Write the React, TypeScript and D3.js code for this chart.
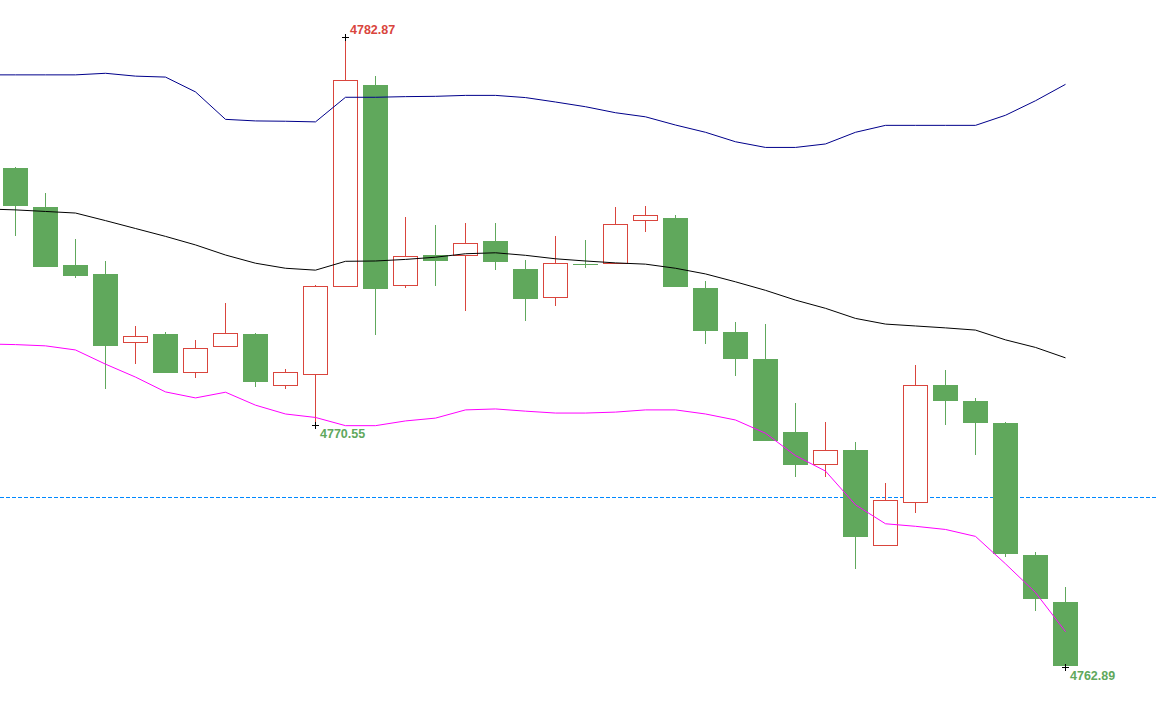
import React from "react";
import * as d3 from "d3";

const W = 1158;
const H = 714;

// OHLC per bar (36 bars)
const opens = [4778.71, 4777.47, 4775.63, 4775.35, 4773.18, 4773.45, 4772.23, 4773.06, 4773.45, 4771.82, 4772.17, 4774.96, 4781.34, 4774.99, 4775.95, 4775.94, 4776.39, 4775.51, 4774.61, 4775.68, 4775.69, 4777.05, 4777.12, 4774.90, 4773.51, 4772.65, 4770.34, 4769.31, 4769.77, 4766.75, 4768.11, 4771.83, 4771.32, 4770.63, 4766.44, 4764.95];
const highs = [4778.74, 4777.92, 4776.46, 4775.76, 4773.70, 4773.51, 4773.26, 4774.43, 4773.48, 4772.34, 4774.99, 4782.87, 4781.62, 4777.15, 4776.90, 4776.96, 4776.96, 4775.79, 4776.55, 4776.43, 4777.47, 4777.50, 4777.22, 4775.13, 4773.83, 4773.76, 4771.26, 4770.66, 4770.02, 4768.72, 4772.46, 4772.30, 4771.43, 4770.66, 4766.53, 4765.43];
const lows = [4776.56, 4775.56, 4775.23, 4771.71, 4772.50, 4772.20, 4772.04, 4773.05, 4771.78, 4771.71, 4770.55, 4774.95, 4773.42, 4774.91, 4774.98, 4774.18, 4775.48, 4773.87, 4774.34, 4775.55, 4775.68, 4776.69, 4774.94, 4773.14, 4772.12, 4770.05, 4768.92, 4768.90, 4766.01, 4766.74, 4767.78, 4770.56, 4769.62, 4766.38, 4764.67, 4762.89];
const closes = [4777.51, 4775.58, 4775.29, 4773.07, 4773.37, 4772.22, 4772.99, 4773.47, 4771.93, 4772.23, 4774.96, 4781.49, 4774.88, 4775.91, 4775.77, 4776.32, 4775.74, 4774.56, 4775.69, 4775.65, 4776.92, 4777.21, 4774.95, 4773.55, 4772.66, 4770.06, 4769.30, 4769.76, 4767.02, 4768.17, 4771.82, 4771.33, 4770.61, 4766.48, 4765.06, 4762.92];

// Bollinger bands, starting one bar before the first visible bar (index -1 .. 35)
const upperBand = [4781.66, 4781.66, 4781.66, 4781.66, 4781.71, 4781.62, 4781.59, 4781.12, 4780.25, 4780.20, 4780.19, 4780.17, 4780.95, 4780.95, 4780.97, 4780.98, 4781.01, 4781.01, 4780.94, 4780.80, 4780.65, 4780.46, 4780.33, 4780.07, 4779.84, 4779.54, 4779.36, 4779.36, 4779.47, 4779.84, 4780.06, 4780.06, 4780.06, 4780.06, 4780.38, 4780.84, 4781.36];
const middleBand = [4777.41, 4777.38, 4777.33, 4777.28, 4777.04, 4776.79, 4776.54, 4776.27, 4775.95, 4775.69, 4775.53, 4775.47, 4775.75, 4775.76, 4775.81, 4775.88, 4775.99, 4776.02, 4775.94, 4775.83, 4775.76, 4775.70, 4775.66, 4775.53, 4775.35, 4775.10, 4774.83, 4774.52, 4774.26, 4773.94, 4773.76, 4773.70, 4773.64, 4773.57, 4773.26, 4773.02, 4772.69];
const lowerBand = [4773.13, 4773.11, 4773.07, 4772.94, 4772.49, 4772.08, 4771.61, 4771.42, 4771.60, 4771.19, 4770.91, 4770.80, 4770.54, 4770.54, 4770.69, 4770.78, 4771.04, 4771.07, 4771.00, 4770.94, 4770.94, 4770.97, 4771.04, 4771.04, 4770.91, 4770.72, 4770.30, 4769.59, 4769.10, 4768.03, 4767.43, 4767.35, 4767.25, 4767.03, 4766.16, 4765.25, 4764.01];

const refLevel = 4768.28;
const highMarks = [11];
const lowMarks = [10, 35];

const UP = "#d9453d";
const DOWN = "#60a85c";

export default function App() {
  const n = opens.length;
  const idx = d3.range(n);
  const x = d3
    .scaleBand<number>()
    .domain(idx)
    .range([0.5, 1080.5])
    .paddingInner(1 / 6)
    .paddingOuter(1 / 12);
  const bw = x.bandwidth();
  const step = x.step();
  const xc = d3
    .scaleLinear()
    .domain([0, 1])
    .range([(x(0) as number) + bw / 2, (x(0) as number) + bw / 2 + step]);

  const y = d3
    .scaleLinear()
    .domain([d3.min(lows) as number, d3.max(highs) as number])
    .range([667, 36.7]);
  const r = (v: number) => Math.round(y(v));

  const bandLine = (vals: number[]) =>
    d3
      .line<number>()
      .x((_, i) => xc(i - 1))
      .y((d) => y(d))(vals) as string;

  const font = "'Liberation Sans', Arial, sans-serif";
  const refY = r(refLevel);
  const dashes = d3.range(0, W, 6);

  return (
    <svg
      width={W}
      height={H}
      style={{ position: "absolute", left: 0, top: 0, background: "#fff" }}
    >
      <defs>
        <clipPath id="plot">
          <rect x={0} y={0} width={W} height={H} />
        </clipPath>
      </defs>
      {/* reference dashed line */}
      <g fill="#0088ff" shapeRendering="crispEdges">
        {dashes.map((d) => (
          <rect key={d} x={d} y={refY} width={4} height={1} />
        ))}
      </g>
      {/* candles */}
      {idx.map((i) => {
        const o = opens[i];
        const c = closes[i];
        const up = c > o;
        const col = up ? UP : DOWN;
        const cx = xc(i);
        const top = r(Math.max(o, c));
        const bot = r(Math.min(o, c));
        const x0 = x(i) as number;
        return (
          <g key={i}>
            <line
              x1={cx}
              x2={cx}
              y1={r(highs[i])}
              y2={r(lows[i])}
              stroke={col}
              strokeWidth={1}
              shapeRendering="crispEdges"
            />
            {up ? (
              <rect
                x={x0 + 0.5}
                y={top + 0.5}
                width={bw - 1}
                height={Math.max(1, bot - top)}
                fill="#fff"
                stroke={col}
                strokeWidth={1}
                shapeRendering="crispEdges"
              />
            ) : (
              <rect
                x={x0}
                y={top}
                width={bw}
                height={Math.max(1, bot - top)}
                fill={col}
                shapeRendering="crispEdges"
              />
            )}
          </g>
        );
      })}
      {/* bands */}
      <g clipPath="url(#plot)" fill="none" strokeWidth={1}>
        <path d={bandLine(upperBand)} stroke="#00008b" />
        <path d={bandLine(middleBand)} stroke="#000" />
        <path d={bandLine(lowerBand)} stroke="#ff00ff" />
      </g>
      {/* high / low markers */}
      {highMarks.map((i) => {
        const cx = xc(i);
        const cy = r(highs[i]) + 0.5;
        return (
          <g key={"h" + i}>
            <path d={`M${cx - 3.5},${cy}H${cx + 3.5}M${cx},${cy - 3.5}V${cy + 3.5}`} stroke="#000" strokeWidth={1} shapeRendering="crispEdges" />
            <text x={cx + 4.5} y={cy - 3.5} fill={UP} fontFamily={font} fontWeight="bold" fontSize={12.5}>
              {highs[i].toFixed(2)}
            </text>
          </g>
        );
      })}
      {lowMarks.map((i) => {
        const cx = xc(i);
        const cy = r(lows[i]) + 0.5;
        return (
          <g key={"l" + i}>
            <path d={`M${cx - 3.5},${cy}H${cx + 3.5}M${cx},${cy - 3.5}V${cy + 3.5}`} stroke="#000" strokeWidth={1} shapeRendering="crispEdges" />
            <text x={cx + 4.5} y={cy + 12} fill={DOWN} fontFamily={font} fontWeight="bold" fontSize={12.5}>
              {lows[i].toFixed(2)}
            </text>
          </g>
        );
      })}
    </svg>
  );
}
